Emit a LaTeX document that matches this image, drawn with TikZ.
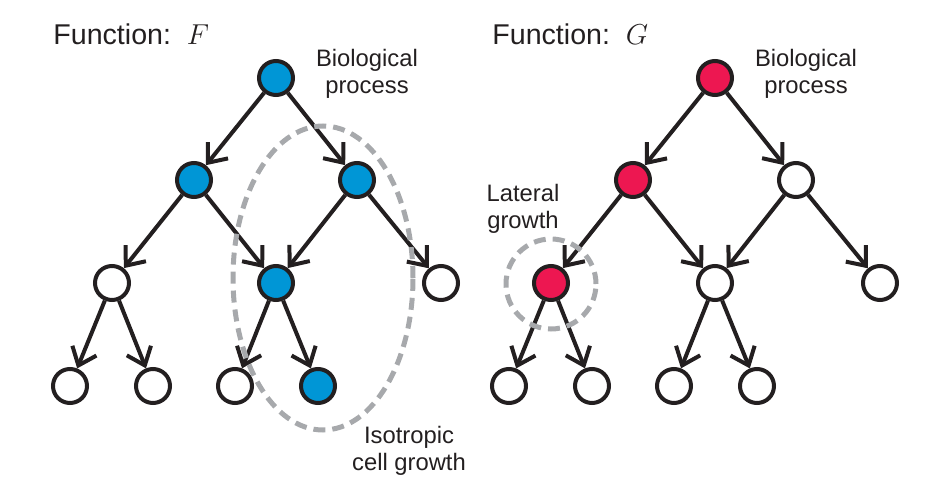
\documentclass[tikz,border=0pt]{standalone}
\usepackage{fontspec}
\setmainfont{Liberation Sans}
\usetikzlibrary{arrows.meta,shapes.geometric}

\definecolor{fblue}{RGB}{0,150,214}
\definecolor{gred}{RGB}{237,23,81}
\definecolor{dgray}{RGB}{167,169,172}
\definecolor{ink}{RGB}{35,31,32}

\begin{document}
\begin{tikzpicture}[x=0.5pt,y=-0.5pt]
\tikzstyle{term} = [circle, draw=ink, line width=2pt, fill=white,
minimum size=17pt, inner sep=0pt]
\tikzstyle{term_f} = [term, fill=fblue]
\tikzstyle{term_g} = [term, fill=gred]
\tikzstyle{note} = [font=\fontsize{11.9}{13.5}\selectfont, text=ink,
align=center, inner sep=0pt]
\tikzstyle{heading} = [font=\fontsize{14.3}{17}\selectfont, text=ink,
inner sep=0pt, anchor=base west]
\tikzstyle{region} = [ellipse, draw=dgray, line width=2.5pt, dash pattern=on 6pt off 3.5pt];
\tikzstyle{line} = [draw=ink, line width=2pt, -{Straight Barb[length=8pt,width=13pt]}];
\useasboundingbox (0,0) rectangle (933,498);

% function F
\node [heading] (titleF) at (53,45) {Function:~~$F$};
\node [term_f] (f1) at (276,78) {};
\node [term_f] (f2) at (194,180) {};
\node [term_f] (f3) at (357,180) {};
\node [term] (f4) at (112,283) {};
\node [term_f] (f5) at (276,283) {};
\node [term] (f6) at (441,283) {};
\node [term] (f7) at (70,386) {};
\node [term] (f8) at (153,386) {};
\node [term] (f9) at (235,386) {};
\node [term_f] (f10) at (318,386) {};
\node [note] (bioF) at (367,74) {Biological\\process};
\node [note] (isoText) at (409,451) {Isotropic\\cell growth};

% function G
\node [heading] (titleG) at (492,45) {Function:~~$G$};
\node [term_g] (g1) at (715,78) {};
\node [term_g] (g2) at (633,180) {};
\node [term] (g3) at (796,180) {};
\node [term_g] (g4) at (551,283) {};
\node [term] (g5) at (715,283) {};
\node [term] (g6) at (880,283) {};
\node [term] (g7) at (509,386) {};
\node [term] (g8) at (592,386) {};
\node [term] (g9) at (674,386) {};
\node [term] (g10) at (757,386) {};
\node [note] (bioG) at (806,74) {Biological\\process};
\node [note] (latText) at (523,209) {Lateral\\growth};

\path [line] (f1) -- (f2);
\path [line] (f1) -- (f3);
\path [line] (f2) -- (f4);
\path [line] (f2) -- (f5);
\path [line] (f3) -- (f5);
\path [line] (f3) -- (f6);
\path [line] (f4) -- (f7);
\path [line] (f4) -- (f8);
\path [line] (f5) -- (f9);
\path [line] (f5) -- (f10);

\path [line] (g1) -- (g2);
\path [line] (g1) -- (g3);
\path [line] (g2) -- (g4);
\path [line] (g2) -- (g5);
\path [line] (g3) -- (g5);
\path [line] (g3) -- (g6);
\path [line] (g4) -- (g7);
\path [line] (g4) -- (g8);
\path [line] (g5) -- (g9);
\path [line] (g5) -- (g10);

% dashed regions
\node [region, minimum width=90pt, minimum height=152pt] (isoRegion) at (323,278) {};
\node [region, circle, minimum size=45pt] (latRegion) at (551,284) {};
\end{tikzpicture}
\end{document}
